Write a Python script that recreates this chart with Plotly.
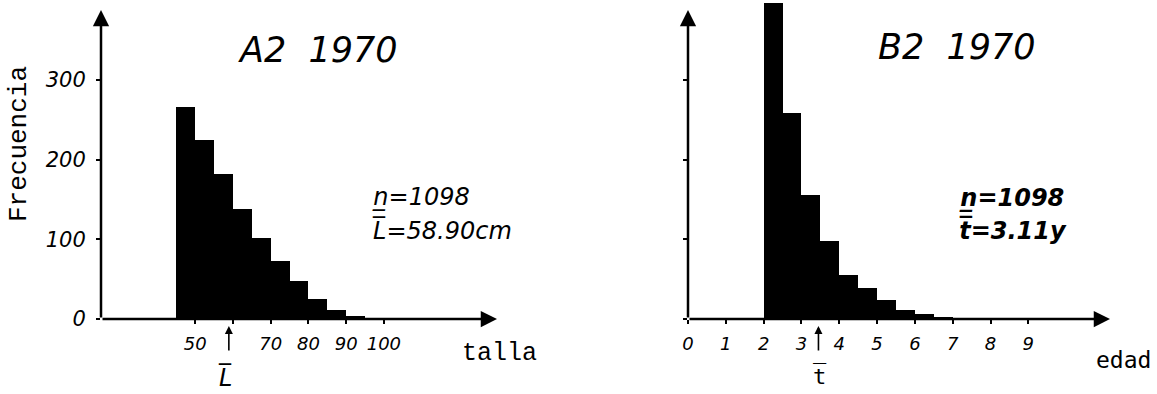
import plotly.graph_objects as go

W, H = 1157, 394

# ---- data ----
talla_bin_lo = [45, 50, 55, 60, 65, 70, 75, 80, 85, 90, 95]
talla_freq = [266, 225, 182, 138, 102, 73, 48, 25, 11, 4, 1]
talla_width = 5
talla_ticks = [50, 60, 70, 80, 90, 100]
talla_ticktext = ["50", "", "70", "80", "90", "100"]
talla_mean = 58.9

edad_bin_lo = [2.0, 2.5, 3.0, 3.5, 4.0, 4.5, 5.0, 5.5, 6.0, 6.5]
edad_freq = [396, 258, 156, 98, 55, 39, 24, 11, 6, 2]
edad_width = 0.5
edad_ticks = [0, 1, 2, 3, 4, 5, 6, 7, 8, 9]
edad_mean_drawn = 3.45

freq_ticks = [0, 100, 200, 300]

def px(x):
    return x / W

def py(y):
    return 1 - y / H

HAND = "DejaVu Sans"
MONO = "Liberation Mono"

fig = go.Figure()
fig.add_trace(go.Bar(
    x=[lo + talla_width / 2 for lo in talla_bin_lo], y=talla_freq, width=talla_width,
    marker=dict(color="black", line=dict(width=0)), xaxis="x", yaxis="y", showlegend=False))
fig.add_trace(go.Bar(
    x=[lo + edad_width / 2 for lo in edad_bin_lo], y=edad_freq, width=edad_width,
    marker=dict(color="black", line=dict(width=0)), xaxis="x2", yaxis="y2", showlegend=False))

ydom = [py(319), 1.0]
YMAX = 400
Y_ARROW = 387.5
XL = [25, 130]
XR = [0, 11.16]

common_x = dict(showgrid=False, zeroline=False, showline=False, ticks="outside",
                ticklen=4, tickwidth=2, tickcolor="black", automargin=False,
                tickfont=dict(family=HAND, size=18, color="black", style="italic"))
common_y = dict(showgrid=False, zeroline=False, showline=False, ticks="outside",
                ticklen=4, tickwidth=2, tickcolor="black", range=[0, YMAX], domain=ydom,
                tickvals=freq_ticks, automargin=False)

fig.update_layout(
    width=W, height=H, margin=dict(l=0, r=0, t=0, b=0, pad=0), autosize=False,
    paper_bgcolor="white", plot_bgcolor="white", bargap=0,
    xaxis=dict(domain=[px(101), px(497)], range=XL, tickvals=talla_ticks,
               ticktext=talla_ticktext, anchor="y", ticklabelstandoff=4, **common_x),
    yaxis=dict(anchor="x", ticklabelstandoff=6,
               tickfont=dict(family=HAND, size=21, color="black", style="italic"), **common_y),
    xaxis2=dict(domain=[px(688), px(1110)], range=XR, tickvals=edad_ticks,
                anchor="y2", ticklabelstandoff=4, **common_x),
    yaxis2=dict(anchor="x2", showticklabels=False, **common_y),
)

ann = []
# axis arrows
for xr, yr, xa in (("x", "y", XL), ("x2", "y2", XR)):
    ann.append(dict(x=xa[1], y=0, ax=xa[0], ay=0, xref=xr, yref=yr, axref=xr, ayref=yr,
                    showarrow=True, arrowhead=2, arrowsize=1.3, arrowwidth=2.5,
                    arrowcolor="black", text=""))
    ann.append(dict(x=xa[0], y=Y_ARROW, ax=xa[0], ay=0, xref=xr, yref=yr, axref=xr, ayref=yr,
                    showarrow=True, arrowhead=2, arrowsize=1.3, arrowwidth=2.5,
                    arrowcolor="black", text=""))

# mean arrows (below the x axis)
for xr, xm in (("x", talla_mean), ("x2", edad_mean_drawn)):
    ann.append(dict(x=xm, y=py(326), xref=xr, yref="paper", ax=0, ay=26, showarrow=True,
                    arrowhead=2, arrowsize=1, arrowwidth=1.6, arrowcolor="black", text=""))

def txt(t, x, y, size, family=HAND, style="italic", xanchor="center", angle=0, weight="normal"):
    ann.append(dict(text=t, x=px(x), y=py(y), xref="paper", yref="paper", showarrow=False,
                    xanchor=xanchor, yanchor="middle", textangle=angle,
                    font=dict(family=family, size=size, color="black", style=style, weight=weight)))

txt("A2  1970", 318, 50, 35)
txt("B2  1970", 957, 47, 35)
txt("n\u0332=1098", 370, 197, 24, xanchor="left")
txt("L\u0305=58.90cm", 370, 230, 24, xanchor="left")
txt("n\u0332=1098", 957, 198, 24, xanchor="left", weight="bold")
txt("t\u0305=3.11y", 957, 230, 24, xanchor="left", weight="bold")
txt("Frecuencia", 19, 144, 26, family=MONO, style="normal", angle=-90)
txt("talla", 499, 353, 25, family=MONO, style="normal")
txt("edad", 1153, 360, 23, family="DejaVu Sans Mono", style="normal", xanchor="right")
txt("L\u0305", 225, 377, 24)
txt("t\u0305", 820, 376, 22, family="DejaVu Sans Mono", style="normal")

fig.update_layout(annotations=ann)
fig.write_html("out.html", config={"displayModeBar": False, "responsive": False},
               post_script="document.body.style.margin='0';document.body.style.overflow='hidden';")
